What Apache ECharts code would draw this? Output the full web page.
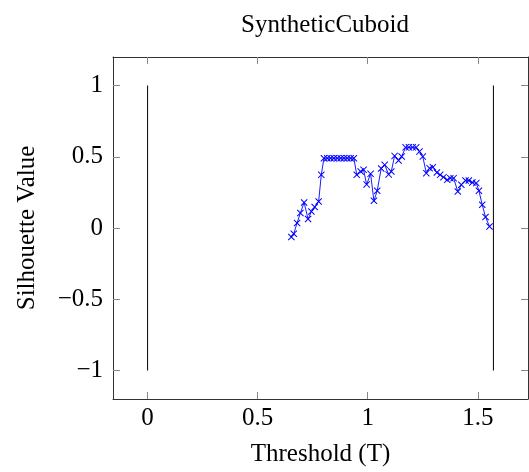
<!DOCTYPE html>
<html>
<head>
<meta charset="utf-8">
<script src="https://cdn.jsdelivr.net/npm/echarts@6/dist/echarts.min.js"></script>
<style>html,body{margin:0;padding:0;background:#fff}#c{width:529px;height:472px}</style>
</head>
<body>
<div id="c"></div>
<script>
var thresholds = [0.653,0.664,0.679,0.694,0.711,0.729,0.744,0.759,0.777,0.789,
  0.801,0.816,0.831,0.846,0.862,0.877,0.892,0.907,0.922,0.937,
  0.950,0.968,0.981,0.995,1.013,1.028,1.043,1.061,1.077,1.095,1.107,1.122,1.140,1.154,
  1.172,1.187,1.204,1.220,1.235,1.250,1.266,1.281,1.296,1.314,1.329,1.344,1.361,1.375,1.390,
  1.409,1.425,1.444,1.459,1.475,1.493,1.505,1.520,1.535,1.553];
var silhouette = [-0.063,-0.040,0.035,0.105,0.179,0.063,0.116,0.147,0.186,0.373,
  0.490,0.490,0.490,0.490,0.490,0.490,0.490,0.490,0.490,0.490,
  0.373,0.397,0.408,0.306,0.380,0.191,0.261,0.418,0.443,0.376,0.397,0.506,0.474,0.502,
  0.566,0.566,0.566,0.566,0.536,0.501,0.385,0.420,0.427,0.389,0.373,0.357,0.338,0.350,0.350,
  0.256,0.303,0.333,0.333,0.319,0.315,0.261,0.163,0.077,0.011];
var boundsX = [0, 1.5708];
var boundsY = [-1, 1];
var xTicks = [0, 0.5, 1, 1.5];
var yTicks = [-1, -0.5, 0, 0.5, 1];
var title = 'SyntheticCuboid';
var xName = 'Threshold (T)';
var yName = 'Silhouette Value';

var font = 'Liberation Serif';
var fs = 25;
var pts = thresholds.map(function (t, i) { return [t, silhouette[i]]; });
var fmt = function (v) { return String(v).replace('-', '\u2212'); };
var crossPath = 'path://M0,1L1,0L5,4L9,0L10,1L6,5L10,9L9,10L5,6L1,10L0,9L4,5Z';

var axisLineStyle = {color: '#333', width: 1};
var tickStyle = {color: '#888', width: 1};

function xAx(pos, show) {
  return {
    type: 'value', position: pos, min: -0.1571, max: 1.7279,
    name: show ? xName : '', nameLocation: 'middle', nameGap: 43,
    nameTextStyle: {fontFamily: font, fontSize: fs, color: '#000'},
    axisLine: {show: true, onZero: false, lineStyle: axisLineStyle},
    axisTick: {show: true, inside: true, length: 7, customValues: xTicks, lineStyle: tickStyle},
    axisLabel: {show: show, customValues: xTicks, formatter: fmt, margin: 7,
      fontFamily: font, fontSize: fs, color: '#000'},
    splitLine: {show: false}
  };
}
function yAx(pos, show) {
  return {
    type: 'value', position: pos, min: -1.2, max: 1.2,
    name: show ? yName : '', nameLocation: 'middle', nameGap: 73,
    nameTextStyle: {fontFamily: font, fontSize: fs, color: '#000'},
    axisLine: {show: true, onZero: false, lineStyle: axisLineStyle},
    axisTick: {show: true, inside: true, length: 7, customValues: yTicks, lineStyle: tickStyle},
    axisLabel: {show: show, customValues: yTicks, formatter: fmt, margin: 10,
      fontFamily: font, fontSize: fs, color: '#000'},
    splitLine: {show: false}
  };
}

var chart = echarts.init(document.getElementById('c'), null, {renderer: 'canvas'});
chart.setOption({
  animation: false,
  backgroundColor: '#fff',
  title: {text: title, left: 320, top: 8, textAlign: 'center',
    textStyle: {fontFamily: font, fontSize: fs, fontWeight: 'normal', color: '#000'}},
  grid: {left: 113, right: 1, top: 57, bottom: 72, containLabel: false},
  xAxis: [xAx('bottom', true), xAx('top', false)],
  yAxis: [yAx('left', true), yAx('right', false)],
  series: [
    {type: 'line', data: [[boundsX[0], boundsY[0]], [boundsX[0], boundsY[1]]], showSymbol: false,
      lineStyle: {color: '#000', width: 1}, silent: true},
    {type: 'line', data: [[boundsX[1], boundsY[0]], [boundsX[1], boundsY[1]]], showSymbol: false,
      lineStyle: {color: '#000', width: 1}, silent: true},
    {type: 'line', data: pts, symbol: crossPath, symbolSize: 7, showAllSymbol: true,
      lineStyle: {color: '#0000ff', width: 0.9}, itemStyle: {color: '#0000ff'}}
  ]
});
</script>
</body>
</html>
